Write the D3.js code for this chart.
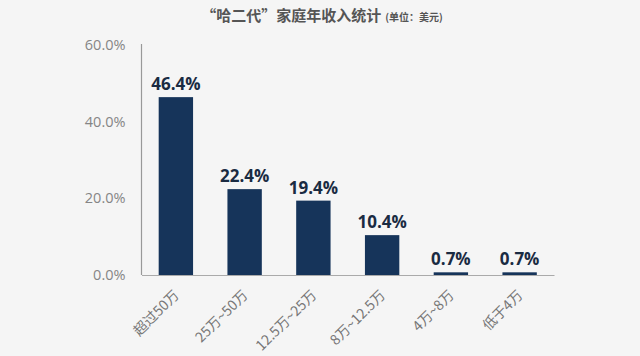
<!DOCTYPE html>
<html><head><meta charset="utf-8">
<script src="https://cdn.jsdelivr.net/npm/d3@7"></script>
<style>
html,body{margin:0;padding:0;background:#f5f5f5;}
svg{display:block;}
</style></head>
<body>
<svg id="c" width="640" height="356"></svg>
<script>
const categories = ["超过50万","25万~50万","12.5万~25万","8万~12.5万","4万~8万","低于4万"];
const values = [46.4, 22.4, 19.4, 10.4, 0.7, 0.7];
const yTicks = [0, 20, 40, 60];
const titleMain = "“哈二代”家庭年收入统计";
const titleUnit = "(单位：美元)";

const svg = d3.select("#c");
const font = "'Noto Sans CJK SC','Noto Sans',sans-serif";
svg.append("rect").attr("width",640).attr("height",356).attr("fill","#f5f5f5");

const x = d3.scaleBand().domain(categories).range([141.5, 554]).paddingInner(0.5).paddingOuter(0.25);
const y = d3.scaleLinear().domain([0, 60]).range([275, 45]);

// title
const t = svg.append("text").attr("x", 322).attr("y", 21).attr("text-anchor","middle")
  .attr("font-family", font).attr("fill","#555");
t.append("tspan").attr("font-size",15).attr("font-weight","bold").text(titleMain);
t.append("tspan").attr("font-size",10).attr("font-weight","bold").attr("dx",4).text(titleUnit);

// y axis
const ya = svg.append("g").attr("transform","translate(141.5,0)")
  .call(d3.axisLeft(y).tickValues(yTicks).tickFormat(d => d.toFixed(1) + "%").tickSize(0).tickPadding(16));
ya.select(".domain").attr("stroke","#999").attr("stroke-width",1.2).attr("d","M0,44V275");
ya.selectAll("text").attr("font-family","'Open Sans',sans-serif").attr("font-size",14.5).attr("fill","#858585");

// bars
svg.append("g").selectAll("rect").data(values).join("rect")
  .attr("x",(d,i)=>x(categories[i]))
  .attr("width",x.bandwidth())
  .attr("y",d=>y(d))
  .attr("height",d=>y(0)-y(d))
  .attr("fill","#16345a");

// x axis
const xa = svg.append("g").attr("transform","translate(0,275)")
  .call(d3.axisBottom(x).tickSize(0).tickPadding(0));
xa.select(".domain").attr("stroke","#aaa").attr("stroke-width",1.2);
xa.selectAll("text").attr("font-family",font).attr("font-size",14).attr("fill","#777")
  .attr("text-anchor","end").attr("dy",0)
  .attr("transform","translate(4,21) rotate(-45)");

// value labels
svg.append("g").selectAll("text").data(values).join("text")
  .attr("x",(d,i)=>x(categories[i]) + x.bandwidth()/2)
  .attr("y",d=>y(d) - 7)
  .attr("text-anchor","middle")
  .attr("font-family","'Open Sans',sans-serif").attr("font-weight","bold")
  .attr("font-size",17).attr("fill","#1a2b42")
  .text(d=>d.toFixed(1)+"%");
</script>
</body></html>
